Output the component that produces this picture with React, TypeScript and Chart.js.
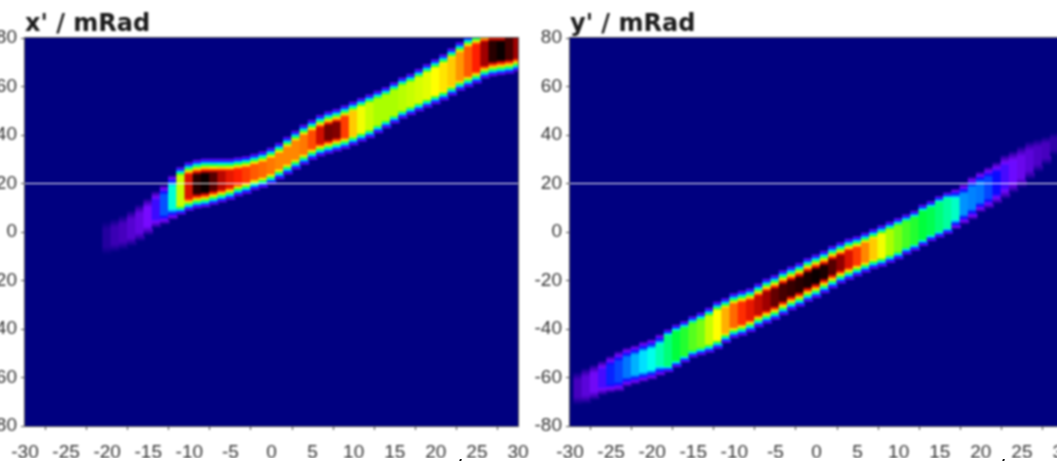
import React, { useEffect, useRef } from "react";
import { Chart, registerables } from "chart.js";

Chart.register(...registerables);

// Left panel, x' against x: per column (mm) the band's lower edge, upper edge (mRad), peak intensity
const leftX = [-20,-19,-18,-17,-16,-15,-14,-13,-12,-11,-10,-9,-8,-7,-6,-5,-4,-3,-2,-1,0,1,2,3,4,5,6,7,8,9,10,11,12,13,14,15,16,17,18,19,20,21,22,23,24,25,26,27,28,29,30];
const leftLo = [-9.5,-8.5,-7.5,-6,-4,-1.5,1.5,3,5,7,8.5,9.5,10,11,12,13,14.5,15.5,17,18,19.5,21.5,23.5,25.5,27.5,29.5,31,32,33,34,35.5,37,38.5,40.5,42.5,44.5,46.5,48,49.5,51,52.5,54,56,58,59.5,61,63,64,64.5,65,66];
const leftHi = [4.5,5.5,7,9,11.5,14,17,19.5,23.5,27,29,30,30.5,30.5,30.5,30.5,31,31.5,32.5,33.5,35,37,39.5,42,44.5,46.5,48.5,50,51,52.5,54,55.5,57,58.5,60,62,64,65.5,67.5,69.5,71.5,73.5,76,78.5,81,82.5,84,85,85,86,87];
const leftPeak = [.03,.05,.06,.08,.1,.13,.18,.28,.42,.62,.85,.98,1,.95,.88,.84,.82,.8,.78,.77,.76,.75,.75,.75,.76,.79,.86,.93,.92,.8,.7,.65,.62,.6,.6,.6,.61,.62,.63,.64,.66,.68,.7,.74,.78,.82,.9,.98,1,.96,.9];

// Right panel, y' against y
const rightX = [-29,-28,-27,-26,-25,-24,-23,-22,-21,-20,-19,-18,-17,-16,-15,-14,-13,-12,-11,-10,-9,-8,-7,-6,-5,-4,-3,-2,-1,0,1,2,3,4,5,6,7,8,9,10,11,12,13,14,15,16,17,18,19,20,21,22,23,24,25,26,27,28,29,30];
const rightLo = [-71.5,-71,-69.5,-67.5,-66.5,-66,-64,-63,-62,-61,-59.5,-58,-56,-54,-52,-51,-50,-48.5,-46,-44,-43,-41.5,-39.5,-38,-36.5,-34.5,-32.5,-31,-29,-27.5,-25.5,-23.5,-21.5,-20,-18.5,-17,-15.5,-14.5,-13,-11.5,-9.5,-8,-6,-4,-2.5,-1,1,3,5,8,9.5,11.5,13.5,16,18,21.5,24.5,27.5,31.5,33.5];
const rightHi = [-57.5,-56,-54.5,-53,-51,-49,-47.5,-46.5,-45,-44,-42,-40,-38,-36.5,-34.5,-33,-31,-28.5,-27,-25,-24,-23,-21,-19,-17.5,-15.5,-14,-12.5,-10.5,-9,-7.5,-5.5,-4,-2.5,-1.5,0,1.5,3,4.5,6,7.5,9,11.5,13,15,16.5,18,20,23,25,27,29,32,33.5,35.5,37.5,38.5,39.5,41,42.5];
const rightPeak = [.06,.09,.12,.17,.24,.27,.31,.35,.38,.41,.44,.47,.5,.52,.55,.57,.62,.66,.72,.77,.81,.84,.87,.9,.94,.96,.97,.98,.99,1,.99,.95,.91,.85,.8,.75,.7,.65,.6,.57,.54,.52,.5,.49,.47,.45,.43,.33,.32,.31,.27,.22,.17,.14,.11,.09,.07,.06,.04,.03];

const yTicks = [-80,-60,-40,-20,0,20,40,60,80];
const xTicks = [-30,-25,-20,-15,-10,-5,0,5,10,15,20,25,30];
const guideY = 20;

const leftTitle = "x' / mRad";
const rightTitle = "y' / mRad";

const colorMap: [number, number[]][] = [
  [0, [0, 0, 128]],
  [0.06, [70, 0, 190]],
  [0.13, [120, 10, 255]],
  [0.22, [10, 10, 255]],
  [0.32, [0, 130, 255]],
  [0.4, [0, 255, 255]],
  [0.5, [0, 255, 60]],
  [0.6, [170, 255, 0]],
  [0.66, [255, 255, 0]],
  [0.74, [255, 150, 0]],
  [0.82, [255, 30, 0]],
  [0.9, [160, 0, 0]],
  [1, [10, 0, 0]],
];

function colorAt(v: number) {
  for (let i = 1; i < colorMap.length; i++) {
    if (v <= colorMap[i][0]) {
      const [a, ca] = colorMap[i - 1];
      const [b, cb] = colorMap[i];
      const f = (v - a) / (b - a);
      const c = ca.map((q, k) => Math.round(q + (cb[k] - q) * f));
      return `rgb(${c[0]},${c[1]},${c[2]})`;
    }
  }
  return "rgb(10,0,0)";
}

function bandFill(ctx: any) {
  const chart = ctx.chart;
  const raw = ctx.raw;
  if (!raw || !chart.scales.y) return "#000080";
  const top = chart.scales.y.getPixelForValue(raw.y[1]);
  const bottom = chart.scales.y.getPixelForValue(raw.y[0]);
  if (!Number.isFinite(top) || !Number.isFinite(bottom)) return "#000080";
  const g = chart.ctx.createLinearGradient(0, top, 0, bottom);
  const h = (bottom - top) / 2;
  const n = 40;
  for (let i = 0; i <= n; i++) {
    const f = i / n;
    const t = Math.min(f, 1 - f) * 2 * h;
    let v: number;
    if (raw.peak < 0.45) v = raw.peak * Math.min(1, t / (0.5 * h));
    else {
      const ramp = t < 1.5 ? (0.13 * t) / 1.5 : t < 10 ? 0.13 + 0.067 * (t - 1.5) : 0.7 + 0.05 * (t - 10);
      v = Math.min(raw.peak, ramp);
    }
    g.addColorStop(f, colorAt(v));
  }
  return g;
}

const frame = {
  id: "frame",
  beforeDatasetsDraw(chart: any) {
    const { ctx, chartArea: a } = chart;
    ctx.save();
    ctx.fillStyle = "#000080";
    ctx.fillRect(a.left, a.top, a.right - a.left, a.bottom - a.top);
    ctx.restore();
  },
  afterDraw(chart: any) {
    const { ctx, chartArea: a } = chart;
    ctx.save();
    ctx.strokeStyle = "#555555";
    ctx.lineWidth = 1;
    ctx.strokeRect(a.left - 0.5, a.top - 0.5, a.right - a.left + 1, a.bottom - a.top + 1);
    ctx.restore();
  },
};

function makeChart(canvas: HTMLCanvasElement, title: string, xs: number[], lo: number[], hi: number[], peak: number[]) {
  return new Chart(canvas, {
    type: "bar",
    data: {
      datasets: [
        {
          type: "line",
          label: "guide",
          data: [{ x: -30, y: guideY }, { x: 30, y: guideY }],
          borderColor: "#ffffff",
          borderWidth: 1,
          pointRadius: 0,
          order: 0,
        },
        {
          type: "bar",
          label: "intensity",
          data: xs.map((x, i) => ({ x, y: [lo[i], hi[i]], peak: peak[i] })),
          backgroundColor: bandFill,
          borderWidth: 0,
          barThickness: 9,
          order: 1,
        },
      ],
    } as any,
    options: {
      animation: false,
      responsive: false,
      events: [],
      layout: { autoPadding: false, padding: { right: 13, left: 0, top: 0, bottom: 0 } },
      plugins: {
        legend: { display: false },
        tooltip: { enabled: false },
        title: {
          display: true,
          text: title,
          align: "start",
          fullSize: false,
          color: "#1c1c1c",
          font: { family: "'DejaVu Sans'", size: 24, weight: "bold", lineHeight: "27px" },
          padding: { top: 11, bottom: 0 },
        },
      },
      scales: {
        x: {
          type: "linear",
          min: -30,
          max: 30,
          offset: false,
          afterBuildTicks: (s: any) => { s.ticks = xTicks.map((value) => ({ value })); },
          afterFit: (s: any) => { s.height = 54; s.paddingLeft = 0; s.paddingRight = 0; },
          grid: { drawOnChartArea: false, tickLength: 4, tickColor: "#444444" },
          border: { color: "#444444" },
          ticks: {
            autoSkip: false,
            maxRotation: 0,
            padding: 11,
            color: "#333333",
            font: { family: "'Liberation Sans'", size: 19 },
          },
        },
        y: {
          min: -80,
          max: 80,
          afterBuildTicks: (s: any) => { s.ticks = yTicks.map((value) => ({ value })); },
          afterFit: (s: any) => { s.width = 54; s.paddingTop = 0; s.paddingBottom = 0; },
          grid: { drawOnChartArea: false, tickLength: 4, tickColor: "#444444" },
          border: { color: "#444444" },
          ticks: {
            padding: 4,
            color: "#333333",
            font: { family: "'Liberation Sans'", size: 19 },
          },
        },
      },
    } as any,
    plugins: [frame],
  });
}

const canvasStyle = (left: number): React.CSSProperties => ({
  position: "absolute",
  left,
  top: 0,
  width: 560,
  height: 480,
  filter: "blur(1px)",
});

const stubStyle = (left: number): React.CSSProperties => ({
  position: "absolute",
  left,
  top: 454,
  font: "24px/30px 'DejaVu Sans'",
  color: "#111111",
  whiteSpace: "pre",
  zIndex: 3,
});

export default function App() {
  const a = useRef<HTMLCanvasElement>(null);
  const b = useRef<HTMLCanvasElement>(null);
  useEffect(() => {
    const c1 = makeChart(a.current!, leftTitle, leftX, leftLo, leftHi, leftPeak);
    const c2 = makeChart(b.current!, rightTitle, rightX, rightLo, rightHi, rightPeak);
    return () => {
      c1.destroy();
      c2.destroy();
    };
  }, []);
  return (
    <div style={{ position: "fixed", left: 0, top: 0, width: 1057, height: 461, overflow: "hidden", background: "#fff" }}>
      <canvas ref={a} width={560} height={480} style={canvasStyle(-29)} />
      <canvas ref={b} width={560} height={480} style={canvasStyle(516)} />
      <div style={{ position: "absolute", left: 0, top: 458, width: 1057, height: 3, background: "#fff", zIndex: 2 }} />
      <div style={stubStyle(432)}>x / mm</div>
      <div style={stubStyle(975)}>y / mm</div>
    </div>
  );
}
